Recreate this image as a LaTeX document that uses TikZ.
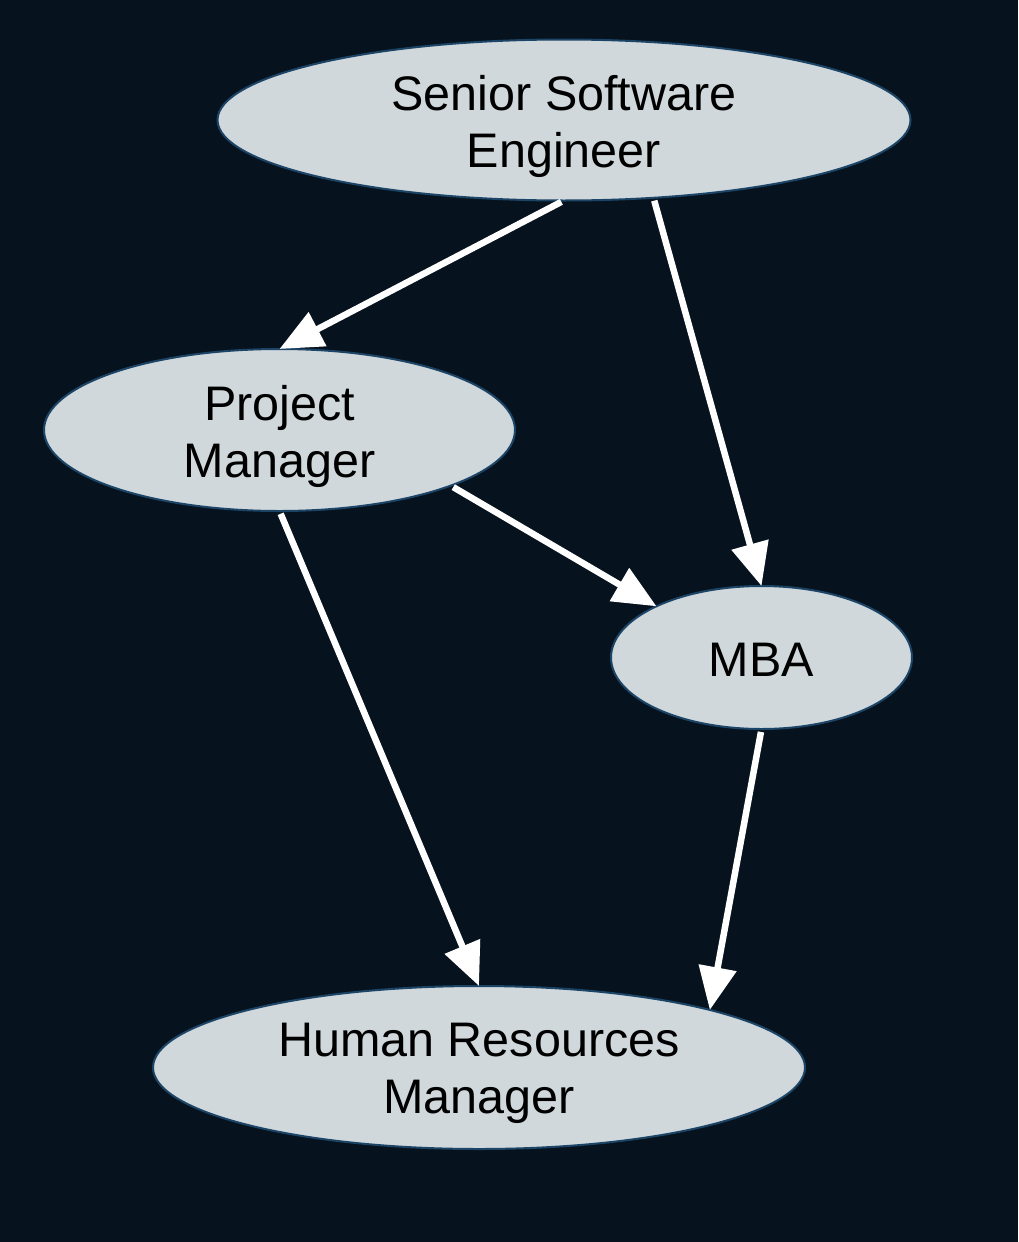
\documentclass[tikz,border=0pt]{standalone}
\usepackage{fontspec}
\setmainfont{Liberation Sans}
\usetikzlibrary{shapes.geometric,arrows.meta}
\definecolor{bgc}{HTML}{06131E}
\definecolor{fillc}{HTML}{D0D8DC}
\definecolor{edgec}{HTML}{1C4466}
\begin{document}
\begin{tikzpicture}[x=1pt,y=-1pt,
  role/.style={ellipse,draw=edgec,line width=2pt,fill=fillc,inner sep=0pt,outer sep=0pt},
  roletext/.style={align=center,font=\fontsize{48.5}{57}\selectfont,text=black,inner sep=0pt},
  link/.style={draw=white,line width=6.5pt,-{Triangle[length=43pt,width=37pt]},shorten <=3pt}]
\fill[bgc] (0,0) rectangle (1018,1242);
\useasboundingbox (0,0) rectangle (1018,1242);
\node[role,minimum width=693pt,minimum height=161pt] (sse) at (564,120) {};
\node[roletext] (sset) at (564,126) {Senior Software\\Engineer};
\node[role,minimum width=471pt,minimum height=162pt] (pm) at (279.5,430) {};
\node[roletext] (pmt) at (279.5,436) {Project\\Manager};
\node[role,minimum width=301pt,minimum height=143pt] (mba) at (761.5,657.5) {};
\node[roletext] (mbat) at (761.5,660) {MBA};
\node[role,minimum width=652pt,minimum height=163pt] (hrm) at (479,1067.5) {};
\node[roletext] (hrmt) at (479,1073.5) {Human Resources\\Manager};
\draw[link] (sse.south) -- (pm.north);
\draw[link] (sse.-41.8) -- (mba.north);
\draw[link] (pm.-18.8) -- (mba.154.6);
\draw[link] (pm.south) -- (hrm.north);
\draw[link] (mba.south) -- (hrm.14);
\end{tikzpicture}
\end{document}
